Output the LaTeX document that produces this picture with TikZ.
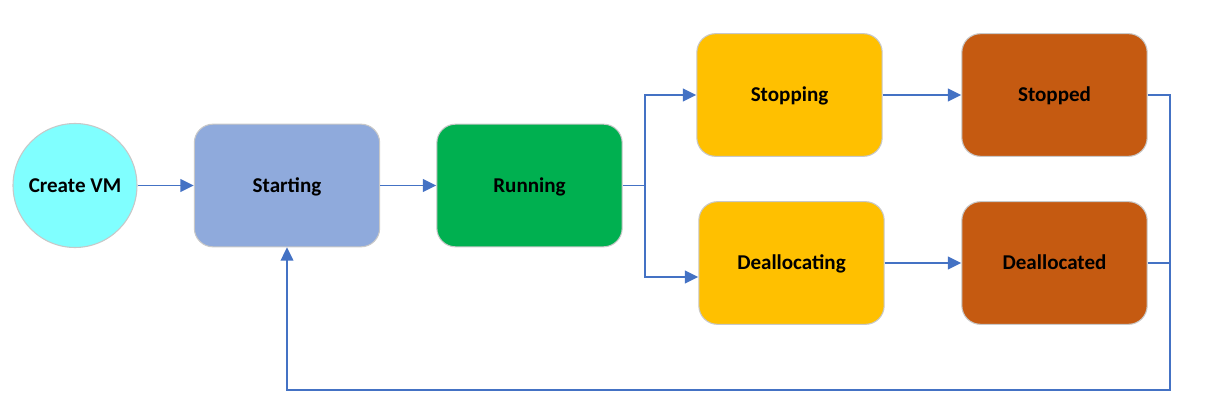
\documentclass[tikz,border=0pt]{standalone}
\usepackage{fontspec}
\setmainfont{Carlito}
\usetikzlibrary{arrows.meta,calc}
\definecolor{cvm}{HTML}{80FFFF}
\definecolor{cstart}{HTML}{8FAADC}
\definecolor{crun}{HTML}{00B050}
\definecolor{cstop}{HTML}{FFC000}
\definecolor{cdone}{HTML}{C55A11}
\definecolor{cline}{HTML}{4472C4}
\definecolor{cedge}{HTML}{C8C8C8}
\begin{document}
\begin{tikzpicture}[x=0.75pt,y=-0.75pt,
  txt/.style={font=\fontsize{15.8pt}{18pt}\selectfont\bfseries,
    text height=10.2pt, text depth=0pt},
  state/.style={txt, draw=cedge, line width=0.8pt, rounded corners=14pt,
    minimum width=139pt, minimum height=92pt, inner sep=0pt},
  startnode/.style={txt, circle, draw=cedge, line width=0.8pt, fill=cvm,
    minimum size=93pt, inner sep=0pt},
  link/.style={draw=cline, line width=1.4pt},
  arr/.style={link, -{Triangle[length=10pt,width=9.5pt]}}]
\useasboundingbox (0,0) rectangle (1212,416);
\node[startnode] (create) at (75,185.5) {Create VM};
\node[state, fill=cstart] (starting) at (287,185.5) {Starting};
\node[state, fill=crun] (running) at (529.5,185.5) {Running};
\node[state, fill=cstop] (stopping) at (789.5,95) {Stopping};
\node[state, fill=cdone] (stopped) at (1054.5,95) {Stopped};
\node[state, fill=cstop] (deallocating) at (791.5,263) {Deallocating};
\node[state, fill=cdone] (deallocated) at (1054.5,263) {Deallocated};
\coordinate (br) at (645,185.5);
\coordinate (rr) at (1170,390);
\draw[arr] (create) -- (starting);
\draw[arr] (starting) -- (running);
\draw[link] (running.east) -- (br);
\draw[arr] (br) |- (stopping.west);
\draw[arr] (br) |- ($(deallocating.west)+(0,14)$);
\draw[arr] (stopping) -- (stopped);
\draw[arr] (deallocating) -- (deallocated);
\draw[link] (deallocated.east) -- (deallocated.east -| rr);
\draw[arr] (stopped.east) -| (rr) -| (starting.south);
\end{tikzpicture}
\end{document}
